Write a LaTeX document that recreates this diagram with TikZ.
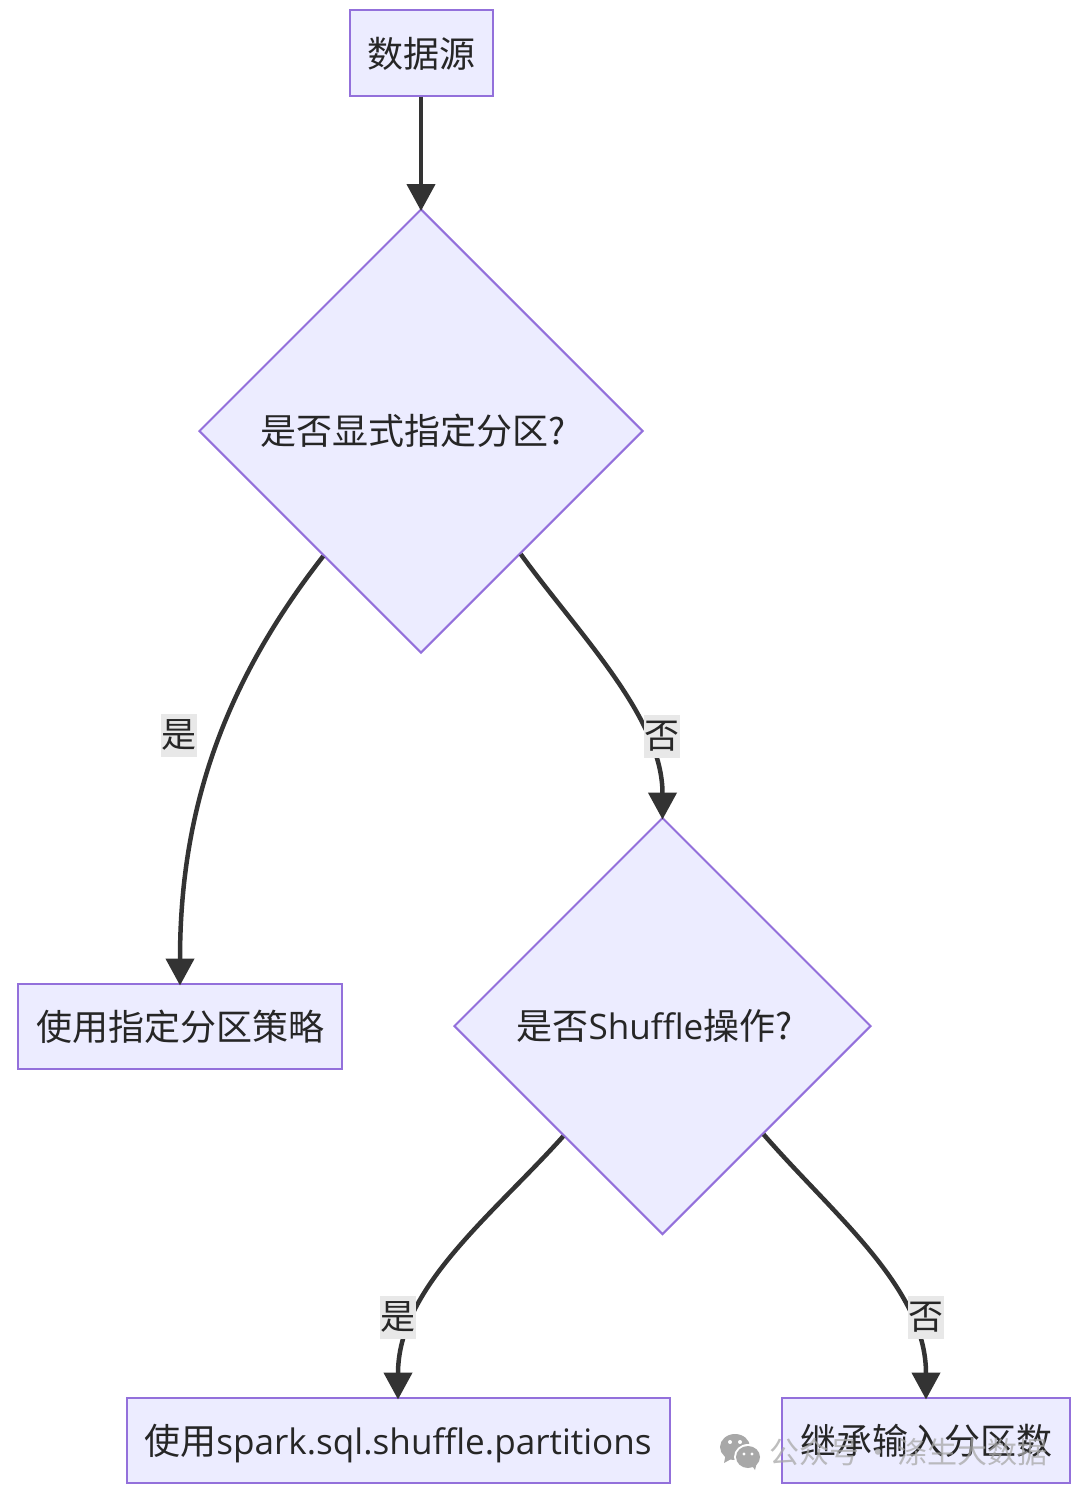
\documentclass[tikz,border=0pt]{standalone}
\usepackage{fontspec}
\setmainfont{Noto Sans CJK SC}[Ligatures=NoCommon]
\newfontfamily\latinfont{Open Sans}[Ligatures=NoCommon,Scale=0.975]
\usetikzlibrary{shapes.geometric,arrows.meta}
\definecolor{boxfill}{HTML}{ECECFF}
\definecolor{boxline}{HTML}{9370DB}
\definecolor{edgeline}{HTML}{333333}
\definecolor{labelfill}{HTML}{E8E8E8}
\definecolor{markgrey}{HTML}{A8A8A8}
\tikzstyle{block} = [rectangle, draw=boxline, fill=boxfill, line width=2pt, text=black!85,
    font=\fontsize{36}{40}\selectfont, minimum height=85pt, inner sep=0pt,
    text height=28pt, text depth=0pt]
\tikzstyle{decision} = [diamond, draw=boxline, fill=boxfill, line width=2pt, text=black!85,
    font=\fontsize{36}{40}\selectfont, inner sep=0pt, text height=26pt, text depth=0pt]
\tikzstyle{arrow} = [draw=edgeline, line width=4.5pt, shorten >=-3pt,
    -{Triangle[length=27pt,width=28pt]}]
\tikzstyle{answer} = [fill=labelfill, text=black!85, font=\fontsize{35}{40}\selectfont,
    minimum width=36pt, minimum height=43pt, inner sep=0pt]

\begin{document}
\begin{tikzpicture}[x=1pt,y=-1pt]
    \useasboundingbox (0,0) rectangle (1080,1496);

    % Place nodes
    \node [block, minimum width=143pt] (source) at (421,53) {数据源};
    \node [decision, minimum size=444pt, below of=source, node distance=378pt] (explicit) {是否显式指定分区?\hspace{16pt}\null};
    \node [block, minimum width=324pt, below of=explicit, node distance=595pt, xshift=-241pt] (strategy) {使用指定分区策略};
    \node [decision, minimum size=417pt, below of=explicit, node distance=595pt, xshift=241.5pt] (shuffle) {是否{\latinfont Shuffle}操作?\hspace{16pt}\null};
    \node [block, minimum width=543pt, below of=shuffle, node distance=414pt, xshift=-264.5pt] (spark) {使用{\latinfont spark.sql.shuffle.partitions}};
    \node [block, minimum width=288pt, below of=shuffle, node distance=414pt, xshift=263.5pt] (inherit) {继承输入分区数};

    % Draw edges
    \path [arrow] (source) -- (explicit);
    \path [arrow] (explicit.-128) to [out=-128, in=90, looseness=0.95] (strategy.north);
    \path [arrow] (explicit.-51) to [out=-54, in=90, looseness=0.85] (shuffle.north);
    \path [arrow] (shuffle.-132) to [out=-132, in=90, looseness=0.9] (spark.north);
    \path [arrow] (shuffle.-47) to [out=-49, in=90, looseness=0.9] (inherit.north);

    % Edge labels
    \node [answer, below of=explicit, node distance=304pt, xshift=-242pt] (yes1) {是};
    \node [answer, below of=explicit, node distance=305pt, xshift=241pt] (no1) {否};
    \node [answer, below of=shuffle, node distance=291pt, xshift=-264.5pt] (yes2) {是};
    \node [answer, below of=shuffle, node distance=291pt, xshift=263.5pt] (no2) {否};

    % Watermark
    \fill [markgrey] (735,1447) ellipse [x radius=15, y radius=13];
    \fill [markgrey] (724,1463) -- (726,1453) -- (733,1458) -- cycle;
    \fill [white] (748,1457) ellipse [x radius=14, y radius=13];
    \fill [markgrey] (748,1457) ellipse [x radius=12, y radius=11];
    \fill [markgrey] (755,1470) -- (751,1464) -- (757,1462) -- cycle;
    \fill [white] (730,1442) circle (2) (740,1442) circle (2) (744,1454) circle (1.6) (752,1454) circle (1.6);
    \node [text=markgrey, text opacity=0.75, font=\fontsize{30}{32}\selectfont, anchor=west] (mark) at (766,1452) {公众号\hspace{4pt}·\hspace{4pt}涤生大数据};

\end{tikzpicture}
\end{document}
